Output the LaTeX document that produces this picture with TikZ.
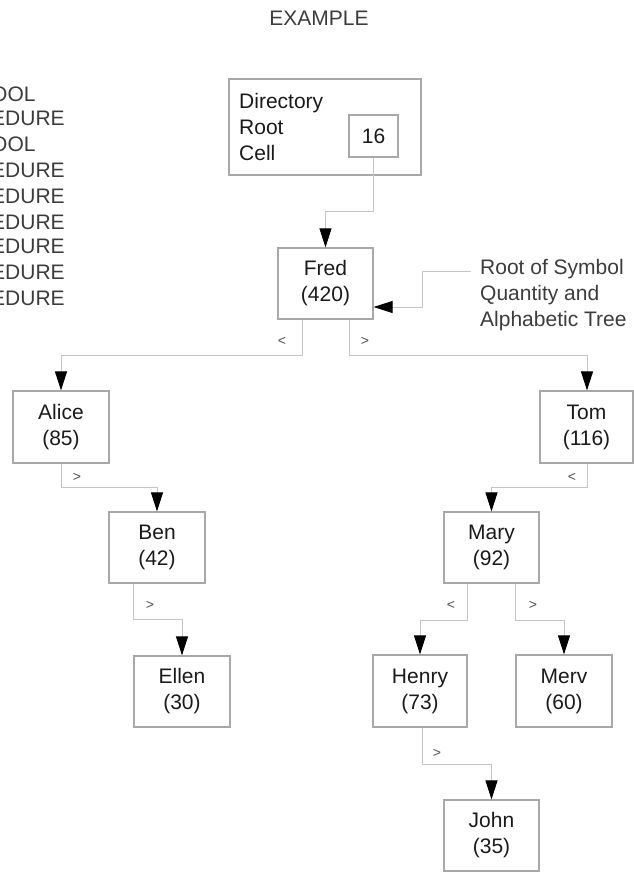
\documentclass[tikz,border=0pt]{standalone}
\usepackage{fontspec}
\setmainfont{Liberation Sans}
\usetikzlibrary{arrows.meta}
\definecolor{boxline}{HTML}{A8A8A8}
\definecolor{wire}{HTML}{C4C4C4}
\definecolor{ink}{HTML}{1A1A1A}
\definecolor{softink}{HTML}{3C3C3C}
\definecolor{cmpink}{HTML}{505050}
\begin{document}
\begin{tikzpicture}[x=1pt,y=-1pt,
  recbox/.style={draw=boxline,line width=1.2pt,inner sep=0pt,align=center,
    text=ink,font=\fontsize{21}{26}\selectfont,minimum width=96pt,minimum height=72pt},
  plain/.style={inner sep=0pt,text=softink,font=\fontsize{21}{26}\selectfont},
  cmp/.style={inner sep=0pt,text=cmpink,font=\fontsize{14}{16}\selectfont},
  link/.style={draw=wire,line width=0.9pt,
    -{Triangle[length=19pt,width=12pt,color=black]}}
]
\useasboundingbox (0,0) rectangle (634,873);

% heading
\node[plain] (title) at (319,18) {EXAMPLE};

% keyword column running off the left edge
\foreach \w/\y [count=\i] in {OOL/94,EDURE/118,OOL/144,EDURE/170,EDURE/196,
                              EDURE/222,EDURE/246,EDURE/272,EDURE/298}{
  \node[plain,anchor=west] (kw\i) at (-9,\y) {\w};
}

% directory root cell
\node[recbox,minimum width=192pt,minimum height=96pt] (dir) at (325,127) {};
\node[plain,text=ink,anchor=west,align=left] (dirtxt) at (239,126.5)
  {Directory\\Root\\Cell};
\node[recbox,minimum width=49pt,minimum height=42pt] (root16) at (373.5,136) {16};

% tree nodes
\node[recbox,minimum width=95pt,minimum height=71pt] (fred) at (325.5,283.5) {Fred\\(420)};
\node[recbox] (alice) at (61,427) {Alice\\(85)};
\node[recbox,minimum width=93pt] (tom) at (586.5,427) {Tom\\(116)};
\node[recbox,minimum height=71pt] (ben) at (157,547.5) {Ben\\(42)};
\node[recbox,minimum height=71pt] (ellen) at (182,691.5) {Ellen\\(30)};
\node[recbox,minimum width=95pt,minimum height=71pt] (mary) at (491.5,547.5) {Mary\\(92)};
\node[recbox,minimum width=94pt] (henry) at (420,691) {Henry\\(73)};
\node[recbox] (merv) at (564,691) {Merv\\(60)};
\node[recbox,minimum width=95pt,minimum height=71pt] (john) at (491.5,835.5) {John\\(35)};

% annotation
\node[plain,anchor=west,align=left] (note) at (480,295.5)
  {Root of Symbol\\Quantity and\\Alphabetic Tree};
\coordinate (notetip) at (471,271);

% connectors
\draw[link] (root16.south) -- ++(0,54) -| (fred.north);
\draw[link] (notetip) -- (422,271) |- ([yshift=-23.5pt]fred.east);
\draw[link] ([xshift=-23.5pt]fred.south) -- ++(0,36) -| (alice.north);
\draw[link] ([xshift=23.5pt]fred.south) -- ++(0,36) -| ([xshift=0.5pt]tom.north);
\draw[link] (alice.south) -- ++(0,24) -| (ben.north);
\draw[link] ([xshift=-24pt]ben.south) -- ++(0,36) -| (ellen.north);
\draw[link] ([xshift=0.5pt]tom.south) -- ++(0,24) -| (mary.north);
\draw[link] ([xshift=-24pt]mary.south) -- ++(0,37) -| (henry.north);
\draw[link] ([xshift=24pt]mary.south) -- ++(0,37) -| (merv.north);
\draw[link] ([xshift=2pt]henry.south) -- ++(0,37) -| (john.north);

% comparison marks
\node[cmp] (c1) at (282,341) {<};
\node[cmp] (c2) at (365,341) {>};
\node[cmp] (c3) at (77,477) {>};
\node[cmp] (c4) at (150,605) {>};
\node[cmp] (c5) at (572,477) {<};
\node[cmp] (c6) at (451,605) {<};
\node[cmp] (c7) at (533,605) {>};
\node[cmp] (c8) at (437,753) {>};
\end{tikzpicture}
\end{document}
